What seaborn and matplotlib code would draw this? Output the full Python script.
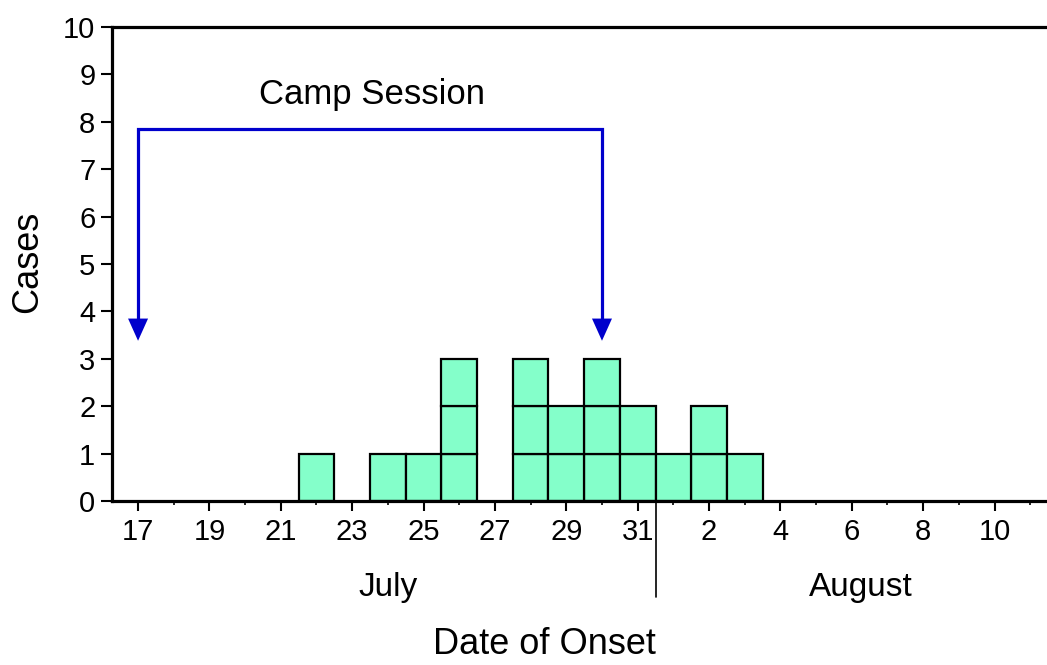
import numpy as np
import pandas as pd
import seaborn as sns
import matplotlib.pyplot as plt
from matplotlib.ticker import MultipleLocator

# onset day (July 17 = 17, Aug 1 = 32) and number of cases
days = [22, 24, 25, 26, 28, 29, 30, 31, 32, 33, 34]
cases = [1, 1, 1, 3, 3, 2, 3, 2, 1, 2, 1]
tick_days = list(range(17, 42, 2))
tick_labels = [str(d) if d <= 31 else str(d - 31) for d in tick_days]

# one row per case, with its layer in the stack
rows = []
for d, n in zip(days, cases):
    for k in range(n):
        rows.append({"day": d, "layer": k + 1})
df = pd.DataFrame(rows)

sns.set_style("ticks")
plt.rcParams['font.family'] = ['Liberation Sans', 'DejaVu Sans']
plt.rcParams['text.color'] = 'black'
plt.rcParams['xtick.color'] = 'black'
plt.rcParams['ytick.color'] = 'black'

fig = plt.figure(figsize=(10.47, 6.65), dpi=100)
ax = fig.add_axes([112 / 1047, 1 - 501 / 665, 1 - 112 / 1047, (501 - 27) / 665])

green = "#84FFCA"
sns.histplot(data=df, x="day", hue="layer", multiple="stack", discrete=True,
             shrink=1, palette={1: green, 2: green, 3: green}, alpha=1,
             edgecolor="black", linewidth=1.6, legend=False, ax=ax)
# drop the empty (zero height) bins
for p in list(ax.patches):
    if p.get_height() == 0:
        p.remove()

ax.set_xlim(16.27, 42.47)
ax.set_ylim(0, 10)
ax.set_xticks(tick_days)
ax.set_xticklabels(tick_labels)
ax.xaxis.set_minor_locator(MultipleLocator(1))
ax.set_yticks(range(0, 11))
ax.set_xlabel("")
ax.set_ylabel("")
ax.tick_params(axis="both", labelsize=21, width=1.5)
ax.tick_params(axis="x", which="major", length=7, pad=5)
ax.tick_params(axis="x", which="minor", length=3, width=1.2)
ax.tick_params(axis="y", length=8, pad=4)

for s in ["left", "top", "bottom"]:
    ax.spines[s].set_linewidth(2.3)
    ax.spines[s].set_color("black")
ax.spines["right"].set_visible(False)

# camp session bracket
blue = "#0000CC"
ax.plot([17, 17, 30, 30], [3.8, 7.85, 7.85, 3.8], color=blue, lw=2.3,
        solid_joinstyle="miter")
for xa in [17, 30]:
    ax.annotate("", xy=(xa, 3.38), xytext=(xa, 3.95),
                arrowprops=dict(arrowstyle="-|>,head_length=0.8,head_width=0.36",
                                mutation_scale=20, color=blue, lw=0,
                                shrinkA=0, shrinkB=0))
ax.text(23.55, 8.57, "Camp Session", fontsize=25, ha="center", va="center")

# month labels and divider
ax.text(24.0, -1.82, "July", fontsize=24, ha="center", va="center")
ax.text(37.25, -1.82, "August", fontsize=24, ha="center", va="center")
ax.plot([31.5, 31.5], [0, -2.03], color="black", lw=1.2, clip_on=False)

fig.text(544 / 1047, 1 - 645 / 665, "Date of Onset", fontsize=26,
         ha="center", va="center")
fig.text(28 / 1047, 1 - 262 / 665, "Cases", fontsize=26, rotation=90,
         ha="center", va="center")

fig.savefig("out.png", dpi=100)
